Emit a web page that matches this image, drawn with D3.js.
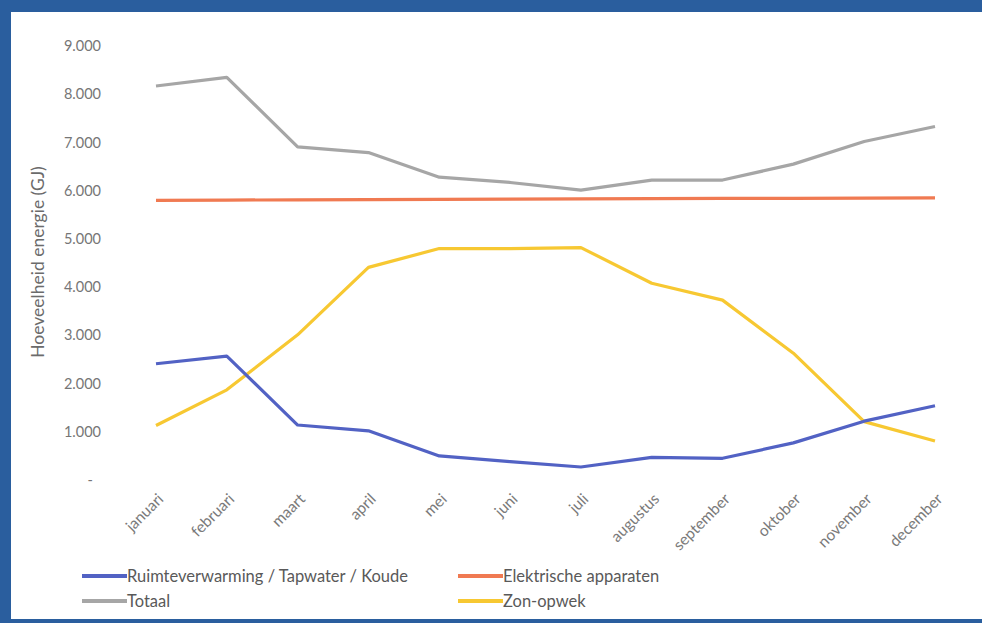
<!DOCTYPE html>
<html><head><meta charset="utf-8">
<script src="https://cdn.jsdelivr.net/npm/d3@7"></script>
<style>
html,body{margin:0;padding:0;background:#fff;}
svg{display:block;}
text{font-family:Lato,"Open Sans",sans-serif;}
</style></head>
<body>
<svg id="c" width="982" height="623"></svg>
<script>
const months = ["januari","februari","maart","april","mei","juni","juli","augustus","september","oktober","november","december"];
const ruimte = [2410,2570,1140,1020,500,380,270,470,450,770,1220,1540];
const elektrisch = [5800,5805,5810,5815,5820,5825,5830,5835,5840,5842,5845,5850];
const totaal = [8170,8350,6910,6790,6280,6170,6010,6220,6220,6550,7020,7330];
const zon = [1130,1870,3010,4410,4800,4800,4820,4080,3730,2630,1210,810];
const yTicks = [0,1000,2000,3000,4000,5000,6000,7000,8000,9000];
const seriesNames = ["Ruimteverwarming / Tapwater / Koude","Elektrische apparaten","Totaal","Zon-opwek"];
const colors = ["#5262c4","#f07a52","#a6a6a6","#f7c832"];

const svg = d3.select("#c");
// frame
svg.append("rect").attr("x",0).attr("y",0).attr("width",982).attr("height",623).attr("fill","#2a5e9e");
svg.append("rect").attr("x",11).attr("y",12).attr("width",971).attr("height",607).attr("fill","#ffffff");

const x = d3.scalePoint().domain(months).range([156,935]);
const y = d3.scaleLinear().domain([0,9000]).range([480,46]);

// y axis
const ya = svg.append("g").attr("transform","translate(101,0)")
  .call(d3.axisLeft(y).tickValues(yTicks).tickSize(0).tickPadding(0)
    .tickFormat(v => v===0 ? "-" : (v/1000).toFixed(3)));
ya.select(".domain").remove();
ya.selectAll("text").attr("fill","#767676").style("font-size","14.5px").style("font-family","Lato,sans-serif");
ya.selectAll(".tick").filter(d=>d===0).select("text").attr("dx","-8");

// x axis
const xa = svg.append("g").attr("transform","translate(0,480)")
  .call(d3.axisBottom(x).tickSize(0));
xa.select(".domain").remove();
xa.selectAll("text")
  .attr("fill","#7a7a7a").style("font-size","15.5px")
  .attr("text-anchor","end")
  .attr("dy","0")
  .attr("y",0).attr("x",0)
  .attr("transform","translate(8,20) rotate(-45)");

// axis title
svg.append("text").attr("transform","translate(44,262) rotate(-90)")
  .attr("text-anchor","middle").attr("fill","#6b6b6b").style("font-size","17.5px")
  .text("Hoeveelheid energie (GJ)");

const line = d3.line().x((d,i)=>x(months[i])).y(d=>y(d));
const data = [ruimte, elektrisch, totaal, zon];
[2,1,3,0].forEach(k=>{
  svg.append("path").datum(data[k]).attr("d",line)
    .attr("fill","none").attr("stroke",colors[k]).attr("stroke-width",3.2)
    .attr("stroke-linejoin","round");
});

// legend
const leg = [
  {k:0,x:82,y:576},{k:1,x:458,y:576},{k:2,x:82,y:601},{k:3,x:458,y:601}
];
leg.forEach(l=>{
  svg.append("line").attr("x1",l.x).attr("x2",l.x+45).attr("y1",l.y).attr("y2",l.y)
    .attr("stroke",colors[l.k]).attr("stroke-width",4);
  svg.append("text").attr("x",l.x+45).attr("y",l.y).attr("dy","0.35em")
    .attr("fill","#595959").style("font-size","16.5px").text(seriesNames[l.k]);
});
</script>
</body></html>
